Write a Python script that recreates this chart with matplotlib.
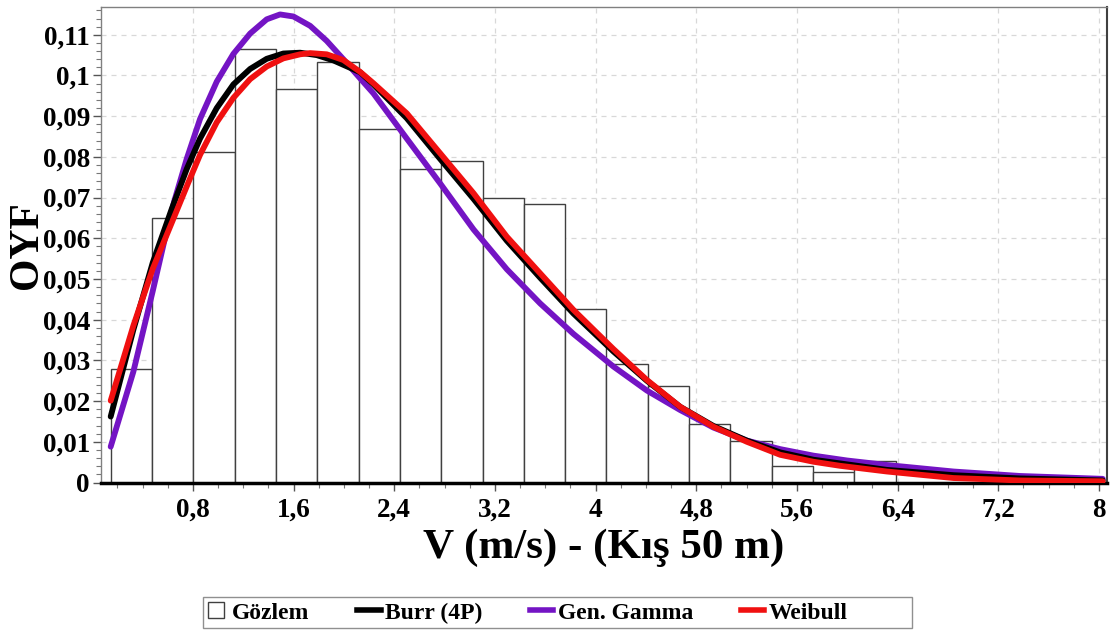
import matplotlib
matplotlib.use("Agg")
import matplotlib.pyplot as plt
import numpy as np
from matplotlib.ticker import MultipleLocator, FixedLocator
from matplotlib.lines import Line2D
from matplotlib.patches import Rectangle

# ---------------- data ----------------
bin_edges = [0.146, 0.474, 0.803, 1.131, 1.459, 1.788, 2.116, 2.444, 2.773, 3.101,
             3.429, 3.758, 4.086, 4.414, 4.743, 5.071, 5.399, 5.727, 6.056, 6.384]
observed = [0.0279, 0.0649, 0.0813, 0.1064, 0.0966, 0.1034, 0.0868, 0.0770, 0.0791,
            0.0698, 0.0685, 0.0426, 0.0292, 0.0236, 0.0144, 0.0102, 0.0041, 0.0026, 0.0053]

burr_x = [0.146, 0.326, 0.480, 0.631, 0.750, 0.856, 0.989, 1.121, 1.254, 1.386, 1.518,
          1.651, 1.784, 1.916, 2.128, 2.234, 2.499, 2.764, 3.029, 3.294, 3.559, 3.824,
          4.141, 4.407, 4.672, 4.936, 5.202, 5.467, 5.731, 6.315, 6.844, 7.374, 8.030]
burr_y = [0.0162, 0.0375, 0.0540, 0.0672, 0.0770, 0.0845, 0.0920, 0.0978, 0.1016, 0.1041, 0.1054,
          0.1056, 0.1050, 0.1037, 0.1008, 0.0978, 0.0895, 0.0795, 0.0697, 0.0594, 0.0503, 0.0415,
          0.0322, 0.0250, 0.0186, 0.0139, 0.0103, 0.0074, 0.0056, 0.0031, 0.0018, 0.0010, 0.0005]

gamma_x = [0.146, 0.326, 0.480, 0.570, 0.650, 0.750, 0.856, 0.989, 1.121, 1.254, 1.386,
           1.492, 1.598, 1.731, 1.863, 1.995, 2.128, 2.234, 2.499, 2.764, 3.029, 3.294,
           3.559, 3.824, 4.141, 4.407, 4.672, 4.936, 5.202, 5.467, 5.731, 6.000, 6.315,
           6.844, 7.374, 8.030]
gamma_y = [0.0088, 0.0272, 0.0470, 0.0590, 0.0690, 0.0795, 0.0893, 0.0985, 0.1053, 0.1103, 0.1138,
           0.1150, 0.1145, 0.1122, 0.1085, 0.1040, 0.0993, 0.0956, 0.0845, 0.0735, 0.0622, 0.0524,
           0.0440, 0.0365, 0.0285, 0.0226, 0.0178, 0.0135, 0.0103, 0.0082, 0.0066, 0.0054, 0.0043,
           0.0027, 0.0016, 0.0009]

weibull_x = [0.146, 0.326, 0.480, 0.671, 0.763, 0.856, 0.989, 1.121, 1.254, 1.386, 1.518,
             1.651, 1.731, 1.863, 1.995, 2.128, 2.234, 2.499, 2.764, 3.029, 3.294, 3.559,
             3.824, 4.141, 4.407, 4.672, 4.936, 5.202, 5.467, 5.731, 5.943, 6.315, 6.844,
             7.374, 8.030]
weibull_y = [0.0201, 0.0385, 0.0525, 0.0668, 0.0737, 0.0805, 0.0885, 0.0945, 0.0991, 0.1022, 0.1042,
             0.1052, 0.1055, 0.1052, 0.1038, 0.1009, 0.0981, 0.0907, 0.0809, 0.0711, 0.0604, 0.0514,
             0.0424, 0.0328, 0.0252, 0.0186, 0.0137, 0.0100, 0.0068, 0.0051, 0.0041, 0.0027, 0.0011,
             0.0005, 0.0003]

x_ticks = [0.8, 1.6, 2.4, 3.2, 4.0, 4.8, 5.6, 6.4, 7.2, 8.0]
x_tick_labels = ["0,8", "1,6", "2,4", "3,2", "4", "4,8", "5,6", "6,4", "7,2", "8"]
y_ticks = [0, 0.01, 0.02, 0.03, 0.04, 0.05, 0.06, 0.07, 0.08, 0.09, 0.10, 0.11]
y_tick_labels = ["0", "0,01", "0,02", "0,03", "0,04", "0,05", "0,06", "0,07", "0,08",
                 "0,09", "0,1", "0,11"]

legend_labels = ["Gözlem", "Burr (4P)", "Gen. Gamma", "Weibull"]
x_label = "V (m/s) - (Kış 50 m)"
y_label = "OYF"

# ---------------- styling ----------------
SERIF = ["Liberation Serif", "DejaVu Serif"]
plt.rcParams["font.family"] = SERIF
plt.rcParams["font.weight"] = "bold"

C_BURR = "#000000"
C_GAMMA = "#7414C4"
C_WEIB = "#F01010"

W, H = 1113, 633
fig = plt.figure(figsize=(W / 100, H / 100), dpi=100)
ax = fig.add_axes([101 / W, 1 - 482.5 / H, (1107 - 101) / W, (482.5 - 6.7) / H])

edges = np.array(bin_edges)
ax.bar(edges[:-1], observed, width=np.diff(edges), align="edge",
       facecolor="white", edgecolor="#404040", linewidth=1.0, zorder=2)

ax.plot(gamma_x, gamma_y, color=C_GAMMA, lw=4.2, solid_capstyle="round", zorder=3)
ax.plot(burr_x, burr_y, color=C_BURR, lw=4.2, solid_capstyle="round", zorder=4)
ax.plot(weibull_x, weibull_y, color=C_WEIB, lw=4.2, solid_capstyle="round", zorder=5)

ax.set_xlim(0.069, 8.064)
ax.set_ylim(0, 0.1169)

ax.xaxis.set_major_locator(FixedLocator(x_ticks))
ax.set_xticklabels(x_tick_labels)
ax.xaxis.set_minor_locator(MultipleLocator(0.2))
ax.yaxis.set_major_locator(FixedLocator(y_ticks))
ax.set_yticklabels(y_tick_labels)
ax.yaxis.set_minor_locator(MultipleLocator(0.002))

ax.tick_params(axis="both", which="major", labelsize=19.5, length=6, width=1,
               color="#555555")
ax.tick_params(axis="both", which="minor", length=3.5, width=0.8, color="#777777")
ax.tick_params(axis="y", which="major", pad=2)
ax.tick_params(axis="x", which="major", pad=5)
for lab in ax.get_xticklabels() + ax.get_yticklabels():
    lab.set_fontweight("bold")

ax.grid(True, which="major", linestyle=(0, (4, 4)), color="#d8d8d8", lw=0.9, zorder=0)
ax.set_axisbelow(True)

ax.spines["bottom"].set_color("black")
ax.spines["bottom"].set_linewidth(2.5)
ax.spines["left"].set_color("#808080")
ax.spines["left"].set_linewidth(1.0)
ax.spines["top"].set_color("#808080")
ax.spines["top"].set_linewidth(1.0)
ax.spines["right"].set_color("#404040")
ax.spines["right"].set_linewidth(1.5)

ax.set_xlabel(x_label, fontsize=31, fontweight="bold", labelpad=4)
fig.text(27 / W, 1 - 245 / H, y_label, rotation=90, ha="center", va="center",
         fontsize=30, fontweight="bold")

# legend: frame drawn as a separate rectangle like the reference's wide box
fig.patches.append(Rectangle((203 / W, 1 - 628 / H), (912 - 203) / W, (628 - 597) / H,
                             transform=fig.transFigure, facecolor="white",
                             edgecolor="#909090", linewidth=1.0, zorder=0))
handles = [
    Line2D([], [], ls="none", marker="s", markersize=12, markerfacecolor="white",
           markeredgecolor="#404040", markeredgewidth=1.0),
    Line2D([], [], color=C_BURR, lw=4),
    Line2D([], [], color=C_GAMMA, lw=4),
    Line2D([], [], color=C_WEIB, lw=4),
]
leg = fig.legend(handles, legend_labels, loc="center left",
                 bbox_to_anchor=(204 / W, 1 - 612 / H),
                 ncol=4, frameon=False, fontsize=17, handlelength=1.0,
                 handleheight=1.0, handletextpad=0.2, columnspacing=2.0,
                 borderpad=0.0, borderaxespad=0.0)
for t in leg.get_texts():
    t.set_fontweight("bold")

fig.savefig("out.png", dpi=100)
